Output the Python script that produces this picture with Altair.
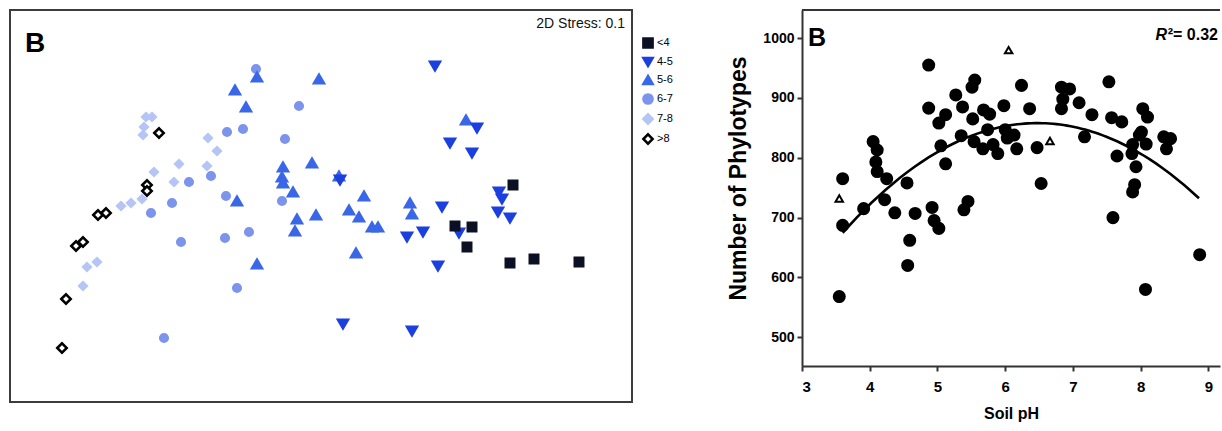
import altair as alt
import pandas as pd

FONT = "Liberation Sans"

# ---------------- Left panel: NMDS ordination ----------------
groups = ["<4", "4-5", "5-6", "6-7", "7-8", ">8"]

lt4_x = [0.96, 0.67, 0.755, 0.73, 0.945, 1.065, 1.29]
lt4_y = [0.105, -0.10, -0.105, -0.205, -0.285, -0.265, -0.28]

g45_x = [0.57, 0.78, 0.645, 0.755, 0.095, 0.89, 0.905, 0.605, 0.885, 0.945, 0.51, 0.43, 0.69, 0.585, 0.11, 0.455]
g45_y = [0.70, 0.39, 0.315, 0.265, 0.13, 0.07, 0.035, -0.005, -0.03, -0.06, -0.13, -0.155, -0.135, -0.30, -0.59, -0.625]

g56_x = [-0.32, -0.01, -0.43, -0.375, 0.725, -0.19, -0.045, -0.195, -0.19, 0.09, -0.14, 0.215, -0.42, -0.12,
         -0.025, 0.14, 0.19, 0.255, 0.285, -0.13, 0.445, 0.455, 0.175, -0.32]
g56_y = [0.645, 0.635, 0.58, 0.495, 0.43, 0.195, 0.215, 0.145, 0.115, 0.15, 0.07, 0.05, 0.025, -0.065,
         -0.045, -0.02, -0.055, -0.105, -0.105, -0.125, 0.015, -0.04, -0.235, -0.29]

g67_x = [-0.325, -0.11, -0.47, -0.39, -0.18, -0.66, -0.55, -0.475, -0.195, -0.745, -0.85, -0.70, -0.48, -0.36, -0.42, -0.785]
g67_y = [0.685, 0.50, 0.37, 0.385, 0.335, 0.12, 0.15, 0.05, 0.025, 0.015, -0.035, -0.18, -0.16, -0.13, -0.41, -0.66]

g78_x = [-0.875, -0.845, -0.885, -0.89, -0.565, -0.52, -0.71, -0.835, -0.735, -0.57, -1.00, -0.95, -0.895, -1.17, -1.12, -1.19]
g78_y = [0.445, 0.445, 0.395, 0.355, 0.34, 0.275, 0.21, 0.17, 0.12, 0.20, 0.0, 0.015, 0.035, -0.305, -0.28, -0.40]

gt8_x = [-0.81, -0.87, -0.87, -1.115, -1.075, -1.225, -1.19, -1.275, -1.295]
gt8_y = [0.365, 0.105, 0.075, -0.045, -0.035, -0.20, -0.18, -0.465, -0.71]

series = [("<4", lt4_x, lt4_y), ("4-5", g45_x, g45_y), ("5-6", g56_x, g56_y),
          ("6-7", g67_x, g67_y), ("7-8", g78_x, g78_y), (">8", gt8_x, gt8_y)]
rows = []
for g, xs, ys in series:
    for a, b in zip(xs, ys):
        rows.append({"cls": g, "NMDS1": a, "NMDS2": b})
nmds = pd.DataFrame(rows)

shape_range = ["square", "triangle-down", "triangle-up", "circle", "diamond", "diamond"]
fill_range = ["#0b1024", "#1c3fe0", "#3a66e8", "#7d94ec", "#b5c5f5", "#ffffff"]
stroke_range = ["#0b1024", "#1c3fe0", "#3a66e8", "#7d94ec", "#b5c5f5", "#000000"]
sizes = {"<4": 72, "4-5": 100, "5-6": 100, "6-7": 58, "7-8": 58, ">8": 90}

LW, LH = 622, 392
xsc = alt.Scale(domain=[-1.555, 1.555], nice=False, zero=False)
ysc = alt.Scale(domain=[-0.98, 0.98], nice=False, zero=False)

leg = alt.Legend(title=None, orient="none", legendX=632, legendY=27, labelFont=FONT,
                 labelFontSize=11, labelColor="black", symbolSize=85, symbolStrokeWidth=2.5,
                 rowPadding=0, labelOffset=3, padding=0)

layers = []
for g in ["7-8", "6-7", "5-6", "4-5", "<4", ">8"]:
    layers.append(
        alt.Chart(nmds)
        .transform_filter(alt.datum.cls == g)
        .mark_point(filled=True, opacity=1, size=sizes[g], strokeWidth=2.5)
        .encode(
            x=alt.X("NMDS1:Q", scale=xsc, axis=None),
            y=alt.Y("NMDS2:Q", scale=ysc, axis=None),
            shape=alt.Shape("cls:N", scale=alt.Scale(domain=groups, range=shape_range), legend=leg),
            fill=alt.Fill("cls:N", scale=alt.Scale(domain=groups, range=fill_range), legend=leg),
            stroke=alt.Stroke("cls:N", scale=alt.Scale(domain=groups, range=stroke_range), legend=leg),
        )
    )

one = pd.DataFrame({"t": ["B"]})
left_B = alt.Chart(one).mark_text(align="left", baseline="alphabetic", font=FONT, fontSize=28,
                                  fontWeight="bold", color="black").encode(
    x=alt.value(15), y=alt.value(42), text=alt.value("B"))
stress = alt.Chart(one).mark_text(align="right", baseline="alphabetic", font=FONT, fontSize=14,
                                  color="#111").encode(
    x=alt.value(615), y=alt.value(18), text=alt.value("2D Stress: 0.1"))

left = alt.layer(*layers, left_B, stress).properties(
    width=LW, height=LH, view=alt.ViewBackground(stroke="#3c3c3c", strokeWidth=2))

# ---------------- Right panel: richness vs soil pH ----------------
ph_circ = [3.55, 3.60, 3.60, 3.91, 4.05, 4.11, 4.09, 4.11, 4.25, 4.22, 4.37, 4.55, 4.59, 4.56, 4.67,
           4.87, 4.87, 4.92, 4.95, 5.02, 5.05, 5.12, 5.12, 5.02, 5.27, 5.37, 5.35, 5.45, 5.39, 5.55,
           5.51, 5.52, 5.54, 5.68, 5.77, 5.74, 5.67, 5.82, 5.89, 5.98, 6.00, 6.13, 6.03, 6.17, 6.24,
           6.36, 6.47, 6.53, 6.83, 6.95, 6.85, 6.83, 7.09, 7.17, 7.28, 7.53, 7.57, 7.72, 7.65, 7.59,
           7.87, 7.88, 7.98, 7.93, 7.91, 7.88, 8.03, 8.10, 8.08, 8.34, 8.44, 8.38, 8.07, 8.87, 8.01]
n_circ = [568, 687, 765, 715, 827, 813, 793, 777, 765, 730, 708, 758, 662, 620, 707,
          955, 883, 717, 695, 682, 820, 790, 872, 858, 905, 885, 837, 727, 713, 930,
          918, 865, 827, 880, 873, 847, 815, 822, 807, 887, 847, 838, 833, 815, 921,
          882, 817, 757, 918, 915, 898, 882, 892, 835, 872, 927, 867, 860, 803, 700,
          807, 822, 838, 785, 755, 743, 882, 868, 823, 835, 832, 815, 580, 638, 843]
ph_tri = [3.55, 6.05, 6.66]
n_tri = [732, 980, 828]
x_ticks = [3, 4, 5, 6, 7, 8, 9]
y_ticks = [500, 600, 700, 800, 900, 1000]

circ = pd.DataFrame({"pH": ph_circ, "N": n_circ})
tri = pd.DataFrame({"pH": ph_tri, "N": n_tri})

RW, RH = 418, 356
xs = alt.Scale(domain=[3, 9.17], nice=False, zero=False)
ys = alt.Scale(domain=[452, 1047], nice=False, zero=False)

axis_common = dict(grid=False, domainColor="#333", domainWidth=2, tickColor="#333", tickWidth=2,
                   tickSize=5, labelFont=FONT, labelFontWeight="bold", labelColor="black",
                   titleFont=FONT, titleFontWeight="bold", titleColor="black", format="d")
xaxis = alt.Axis(values=x_ticks, title="Soil pH", labelFontSize=15, labelPadding=8,
                 titleFontSize=16, titlePadding=11, **axis_common)
yaxis = alt.Axis(values=y_ticks, title="Number of  Phylotypes", labelFontSize=14, labelPadding=3,
                 titleFontSize=23, titlePadding=12, titleY=168, **axis_common)

pts = alt.Chart(circ).mark_circle(size=170, color="black", opacity=1).encode(
    x=alt.X("pH:Q", scale=xs, axis=xaxis), y=alt.Y("N:Q", scale=ys, axis=yaxis))
fit = alt.Chart(circ).transform_regression("pH", "N", method="poly", order=2,
                                           extent=[3.6, 8.86]).mark_line(
    color="black", strokeWidth=2.6).encode(x=alt.X("pH:Q", scale=xs), y=alt.Y("N:Q", scale=ys))
tris = alt.Chart(tri).mark_point(shape="triangle-up", size=55, strokeWidth=2, filled=True,
                                 fill="white", stroke="black", opacity=1).encode(
    x=alt.X("pH:Q", scale=xs), y=alt.Y("N:Q", scale=ys))
top_line = alt.Chart(one).mark_rule(color="#333", strokeWidth=2).encode(
    x=alt.value(0), x2=alt.value(RW), y=alt.value(0))
right_B = alt.Chart(one).mark_text(align="left", baseline="alphabetic", font=FONT, fontSize=25,
                                   fontWeight="bold", color="black").encode(
    x=alt.value(6), y=alt.value(36), text=alt.value("B"))
r_R = alt.Chart(one).mark_text(align="right", baseline="alphabetic", font=FONT, fontSize=16,
                               fontWeight="bold", fontStyle="italic", color="black").encode(
    x=alt.value(365), y=alt.value(30), text=alt.value("R"))
r_val = alt.Chart(one).mark_text(align="right", baseline="alphabetic", font=FONT, fontSize=16,
                                 fontWeight="bold", color="black").encode(
    x=alt.value(416), y=alt.value(30), text=alt.value("²= 0.32"))

right = alt.layer(pts, fit, tris, top_line, right_B, r_R, r_val).properties(
    width=RW, height=RH, view=alt.ViewBackground(stroke="transparent"))

chart = alt.hconcat(left, right, spacing=170, bounds="flush").properties(
    padding={"left": 9, "top": 8, "right": 0, "bottom": 0}
).configure(background="white")

chart.save("out.html", embed_options={"renderer": "svg", "actions": False})
